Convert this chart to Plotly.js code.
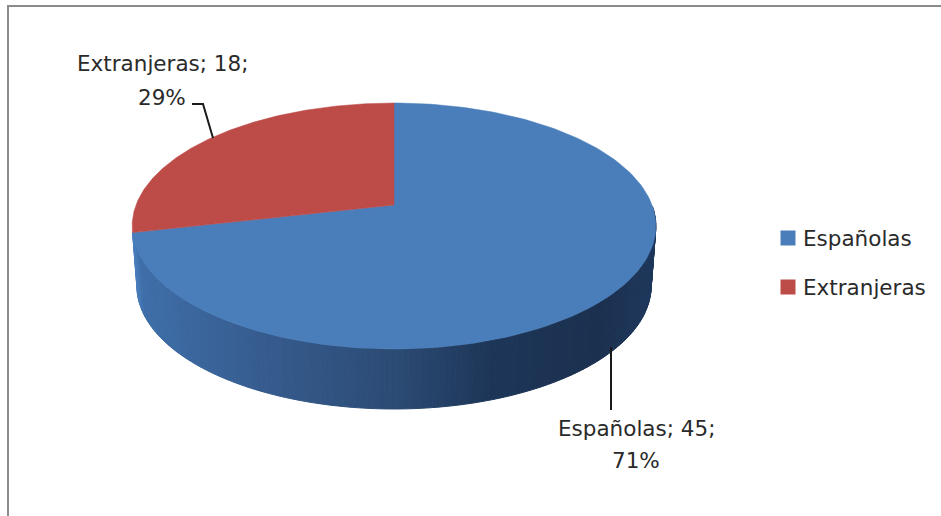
<!DOCTYPE html>
<html>
<head>
<meta charset="utf-8">
<script src="https://cdn.plot.ly/plotly-3.0.1.min.js"></script>
<style>html,body{margin:0;padding:0;background:#fff}#chart{width:941px;height:516px}</style>
</head>
<body>
<div id="chart"></div>
<script>
const categories = ['Españolas', 'Extranjeras'];
const values = [45, 18];

const topColors = {'Españolas': '#4a7ebb', 'Extranjeras': '#bd4b48'};
const textColor = '#2a2a2a';
const labelFont = {family: 'DejaVu Sans, sans-serif', size: 21.5, color: textColor};

// The axes run in canvas pixels so the projected disc keeps its proportions.
const W = 941, H = 516;
const total = values.reduce((a, b) => a + b, 0);

// Perspective projection of the unit disc onto the tilted top face.
const apex = {x: 394, y: 205};
const persp = 0.1707, scaleX = 258, scaleY = 119.4;
function project(turn) {
  const a = turn * 2 * Math.PI;
  const u = Math.sin(a), v = Math.cos(a);
  const d = 1 + persp * v;
  return [apex.x + scaleX * u / d, apex.y - scaleY * v / d];
}
function arc(from, to, steps) {
  const pts = [];
  for (let i = 0; i <= steps; i++) pts.push(project(from + (to - from) * i / steps));
  return pts;
}

// Rim shifted down and pulled in slightly: the lower edge of the wall.
const depth = 60, shrink = 0.982;
function lower(p) {
  return [apex.x + (p[0] - apex.x) * shrink, p[1] + depth];
}

// Wall shading, sampled left to right across the visible front of the disc.
const wallStops = [
  [133, [74, 126, 187]], [140, [62, 110, 168]], [260, [54, 92, 142]], [400, [43, 74, 115]],
  [490, [29, 54, 88]], [600, [27, 48, 79]], [656, [30, 56, 92]]
];
function wallColor(x) {
  for (let i = 1; i < wallStops.length; i++) {
    if (x <= wallStops[i][0]) {
      const [x0, c0] = wallStops[i - 1], [x1, c1] = wallStops[i];
      const t = Math.max(0, (x - x0) / (x1 - x0));
      return 'rgb(' + c0.map((c, k) => Math.round(c + (c1[k] - c) * t)).join(',') + ')';
    }
  }
  return 'rgb(30,56,92)';
}

const traces = [];
function polygon(pts, color, name) {
  traces.push({
    type: 'scatter', mode: 'lines', x: pts.map(p => p[0]), y: pts.map(p => p[1]),
    fill: 'toself', fillcolor: color, line: {color: color, width: name ? 0.5 : 1},
    hoverinfo: name ? 'name' : 'skip', name: name || '', showlegend: false
  });
}

// Only the front of the disc shows a wall, from the right edge round to the slice boundary.
const wallSegments = 150;
const wallStart = 0.252, wallEnd = 1 - values[1] / total;
for (let i = 0; i < wallSegments; i++) {
  const a = wallStart + (wallEnd - wallStart) * i / wallSegments;
  const b = wallStart + (wallEnd - wallStart) * (i + 1) / wallSegments;
  const p = project(a), q = project(b);
  polygon([p, q, lower(q), lower(p), p], wallColor((p[0] + q[0]) / 2));
}

// Top faces, one wedge per category, clockwise from twelve o'clock.
let start = 0;
categories.forEach((name, i) => {
  const end = start + values[i] / total;
  const pts = [[apex.x, apex.y]].concat(arc(start, end, 180));
  pts.push([apex.x, apex.y]);
  polygon(pts, topColors[name], name);
  start = end;
});

// Leader lines from the data labels to their slices.
const leaders = [
  {x: [611, 611], y: [347, 410]},
  {x: [192, 203, 213], y: [104, 104, 138]}
];
leaders.forEach(l => traces.push({
  type: 'scatter', mode: 'lines', x: l.x, y: l.y,
  line: {color: '#1a1a1a', width: 2}, hoverinfo: 'skip', showlegend: false
}));

// Legend keys, placed by hand because the chart's key spacing is wider than the built-in legend allows.
const legendX = 788, legendTextX = 803, legendY = [238, 287];
traces.push({
  type: 'scatter', mode: 'markers', x: categories.map(() => legendX), y: legendY,
  marker: {symbol: 'square', size: 15, color: categories.map(c => topColors[c])},
  text: categories, hoverinfo: 'text', showlegend: false
});

// Data labels: category; value; on one line and the share on the next.
const labelSpots = [
  {x: 636, y1: 428, y2: 460},
  {x: 162, y1: 63, y2: 97}
];
const annotations = [];
categories.forEach((name, i) => {
  const pct = Math.round(values[i] / total * 100);
  const s = labelSpots[i];
  annotations.push({x: s.x, y: s.y1, xref: 'x', yref: 'y', text: name + '; ' + values[i] + ';', showarrow: false, font: labelFont});
  annotations.push({x: s.x, y: s.y2, xref: 'x', yref: 'y', text: pct + '%', showarrow: false, font: labelFont});
  annotations.push({x: legendTextX, y: legendY[i], xref: 'x', yref: 'y', xanchor: 'left', xshift: -2, text: name, showarrow: false, font: labelFont});
});

const layout = {
  width: W, height: H,
  margin: {l: 0, r: 0, t: 0, b: 0},
  paper_bgcolor: '#fff', plot_bgcolor: '#fff',
  xaxis: {range: [0, W], visible: false, fixedrange: true},
  yaxis: {range: [H, 0], visible: false, fixedrange: true},
  showlegend: false,
  annotations: annotations,
  shapes: [
    {type: 'line', xref: 'x', yref: 'y', x0: 8, x1: 8, y0: 6, y1: H, line: {color: '#8c8c8c', width: 2}},
    {type: 'line', xref: 'x', yref: 'y', x0: 7, x1: W, y0: 6, y1: 6, line: {color: '#8c8c8c', width: 2}}
  ]
};

Plotly.newPlot('chart', traces, layout, {displayModeBar: false, responsive: false});
</script>
</body>
</html>
